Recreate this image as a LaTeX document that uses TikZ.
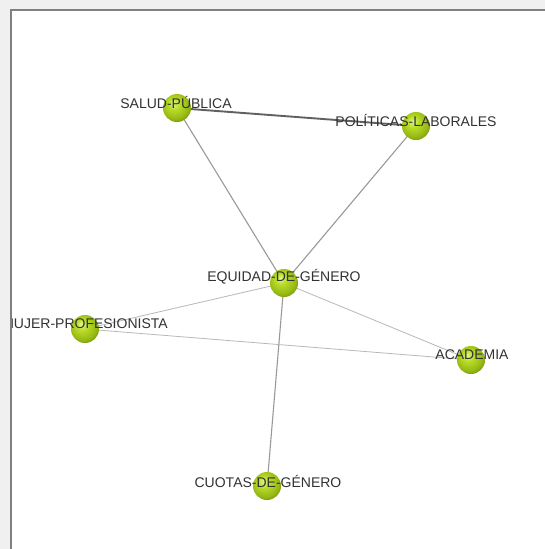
\documentclass[tikz,border=0pt]{standalone}
\usepackage{fontspec}
\setmainfont{Liberation Sans}
\definecolor{labelgray}{RGB}{50,50,50}
\definecolor{gA}{RGB}{225,245,140}
\definecolor{gB}{RGB}{185,220,40}
\definecolor{gC}{RGB}{150,185,20}
\definecolor{gD}{RGB}{105,130,10}
\definecolor{gE}{RGB}{80,95,10}
\pgfdeclareradialshading{greenball}{\pgfpoint{-7bp}{9bp}}{%
  color(0bp)=(gA); color(10bp)=(gB); color(24bp)=(gC); color(34bp)=(gD); color(50bp)=(gE)}
\tikzset{
  ball/.style={circle, minimum size=28pt, inner sep=0pt, shading=greenball},
  lbl/.style={font=\fontsize{14}{15}\selectfont, text=labelgray, inner sep=0pt},
  strong/.style={draw=black!62, line width=1.9pt},
  mid/.style={draw=black!40, line width=1.1pt},
  light/.style={draw=black!28, line width=0.8pt}
}
\begin{document}
\begin{tikzpicture}[x=1pt,y=-1pt]
\useasboundingbox (0,0) rectangle (545,549);
\fill[black!6] (0,0) rectangle (545,549);
\fill[white] (12,11) rectangle (545,549);
\draw[black!50, line width=2pt] (11,549) -- (11,10) -- (545,10);
\begin{scope}
\clip (12,11) rectangle (545,549);
\coordinate (s) at (177,108);
\coordinate (p) at (416,126);
\coordinate (e) at (284,283);
\coordinate (m) at (85,329);
\coordinate (a) at (471,360);
\coordinate (c) at (267,486);
\draw[strong] (s) -- (p);
\draw[mid] (s) -- (e);
\draw[mid] (p) -- (e);
\draw[mid] (e) -- (c);
\draw[light] (e) -- (m);
\draw[light] (e) -- (a);
\draw[light] (m) -- (a);
\node[ball] (sb) at (s) {};
\node[ball] (pb) at (p) {};
\node[ball] (eb) at (e) {};
\node[ball] (mb) at (m) {};
\node[ball] (ab) at (a) {};
\node[ball] (cb) at (c) {};
\node[lbl] (sl) at (176,102) {SALUD-PÚBLICA};
\node[lbl] (pl) at (416,120) {POLÍTICAS-LABORALES};
\node[lbl] (el) at (284,277) {EQUIDAD-DE-GÉNERO};
\node[lbl] (ml) at (85,324) {MUJER-PROFESIONISTA};
\node[lbl] (al) at (472,355) {ACADEMIA};
\node[lbl] (cl) at (268,481) {CUOTAS-DE-GÉNERO};
\end{scope}
\end{tikzpicture}
\end{document}
